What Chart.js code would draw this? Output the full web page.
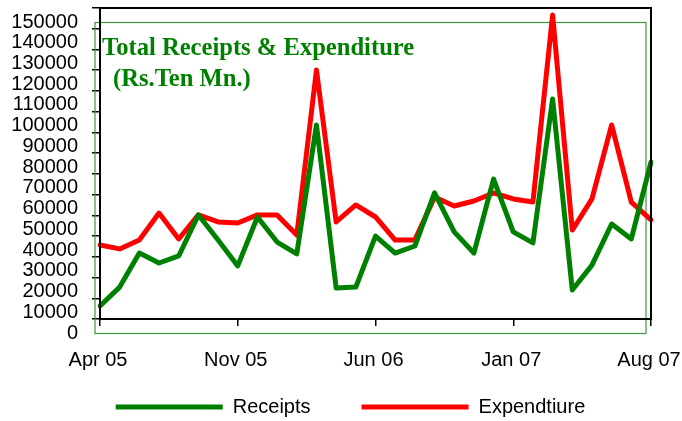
<!DOCTYPE html>
<html>
<head>
<meta charset="utf-8">
<script src="https://cdn.jsdelivr.net/npm/chart.js@4.4.1/dist/chart.umd.min.js"></script>
<style>
  html, body { margin: 0; padding: 0; background: #ffffff; }
  #wrap { width: 682px; height: 421px; position: relative; }
</style>
</head>
<body>
<div id="wrap"><canvas id="c" width="682" height="421"></canvas></div>
<script>
// ---- data ----
const months = ['Apr 05','May 05','Jun 05','Jul 05','Aug 05','Sep 05','Oct 05','Nov 05','Dec 05','Jan 06',
  'Feb 06','Mar 06','Apr 06','May 06','Jun 06','Jul 06','Aug 06','Sep 06','Oct 06','Nov 06',
  'Dec 06','Jan 07','Feb 07','Mar 07','Apr 07','May 07','Jun 07','Jul 07','Aug 07'];
const tickLabels = ['Apr 05','Nov 05','Jun 06','Jan 07','Aug 07'];
const receipts = [6300, 15400, 31800, 27000, 30400, 50200, 38100, 25600, 49200, 37100,
  31400, 93600, 15000, 15400, 40000, 31800, 35200, 60800, 42000, 31800,
  67500, 42000, 36700, 106100, 14000, 26000, 45800, 38600, 75700];
const expenditure = [35700, 33800, 38100, 51100, 38600, 50200, 46800, 46300, 50200, 50200,
  40500, 120100, 46800, 55000, 49200, 38100, 38100, 58800, 54500, 56900,
  60800, 57900, 56400, 146600, 42900, 57900, 93600, 56400, 47800];
const yTicks = {min: 0, max: 150000, step: 10000};
const titleLines = ['Total Receipts & Expenditure', '(Rs.Ten Mn.)'];

const GREEN = '#008000';
const RED = '#FF0000';

const framePlugin = {
  id: 'frames',
  afterLayout(chart) {
    // place the legend row as in the original (centred under the plot, lower down)
    const lg = chart.legend;
    if (lg) {
      lg.top = chart.chartArea.bottom + 27;
      lg.left += 20;
      lg.right += 20;
    }
  },
  beforeDatasetsDraw(chart) {
    const {ctx, chartArea: a} = chart;
    ctx.save();
    // green plot-area box (offset from the black axis frame, as in the original)
    ctx.strokeStyle = '#3c9a3c';
    ctx.lineWidth = 1.2;
    ctx.strokeRect(a.left - 5, a.top + 14.5, a.right - a.left, a.bottom - a.top);
    // title text
    ctx.fillStyle = GREEN;
    ctx.font = 'bold 24.6px "Liberation Serif", "Times New Roman", serif';
    ctx.textBaseline = 'alphabetic';
    ctx.textAlign = 'left';
    ctx.fillText(titleLines[0], a.left + 2, a.top + 47);
    ctx.fillText(titleLines[1], a.left + 13, a.top + 78);
    ctx.restore();
  },
  afterDatasetsDraw(chart) {
    const {ctx, chartArea: a} = chart;
    ctx.save();
    ctx.strokeStyle = '#000';
    ctx.lineWidth = 2;
    ctx.strokeRect(a.left, a.top, a.right - a.left, a.bottom - a.top);
    ctx.restore();
  }
};

new Chart(document.getElementById('c'), {
  type: 'line',
  data: {
    labels: months,
    datasets: [
      { label: 'Receipts', data: receipts, borderColor: GREEN, backgroundColor: GREEN,
        borderWidth: 5, pointRadius: 0, tension: 0, borderJoinStyle: 'round', borderCapStyle: 'round' },
      { label: 'Expendtiure', data: expenditure, borderColor: RED, backgroundColor: RED,
        borderWidth: 5, pointRadius: 0, tension: 0, borderJoinStyle: 'round', borderCapStyle: 'round' }
    ]
  },
  options: {
    responsive: false,
    animation: false,
    events: [],
    layout: { padding: { left: 10, right: 31, top: 8, bottom: -22 } },
    plugins: {
      tooltip: { enabled: false },
      title: { display: false },
      legend: {
        position: 'bottom',
        maxHeight: 49,
        labels: {
          usePointStyle: true,
          pointStyle: 'line',
          pointStyleWidth: 107,
          padding: 51,
          color: '#000',
          font: { family: '"Liberation Sans", Arial, sans-serif', size: 20 }
        }
      }
    },
    scales: {
      x: {
        type: 'category',
        offset: false,
        border: { display: false },
        grid: {
          drawOnChartArea: false,
          drawTicks: true,
          tickLength: 7,
          lineWidth: 1.5,
          color: (c) => (tickLabels.includes(months[c.index]) ? '#000' : 'rgba(0,0,0,0)')
        },
        ticks: {
          autoSkip: false,
          maxRotation: 0,
          minRotation: 0,
          padding: 22,
          labelOffset: -2,
          color: '#000',
          font: { family: '"Liberation Sans", Arial, sans-serif', size: 20, lineHeight: 1.2 },
          callback: function (v, i) { const l = months[i]; return tickLabels.includes(l) ? l : ''; }
        },
        afterFit: (s) => { s.paddingLeft = 0; s.paddingRight = 0; }
      },
      y: {
        min: yTicks.min,
        max: yTicks.max,
        border: { display: false },
        grid: { drawOnChartArea: false, drawTicks: true, tickLength: 8, color: '#000', lineWidth: 1.5 },
        ticks: {
          stepSize: yTicks.step,
          autoSkip: false,
          padding: 14,
          labelOffset: 14,
          color: '#000',
          font: { family: '"Liberation Sans", Arial, sans-serif', size: 20, lineHeight: 1 },
          callback: (v) => String(v)
        },
        afterFit: (s) => { s.width = 90; s.paddingTop = 0; s.paddingBottom = 0; }
      }
    }
  },
  plugins: [framePlugin]
});
</script>
</body>
</html>
